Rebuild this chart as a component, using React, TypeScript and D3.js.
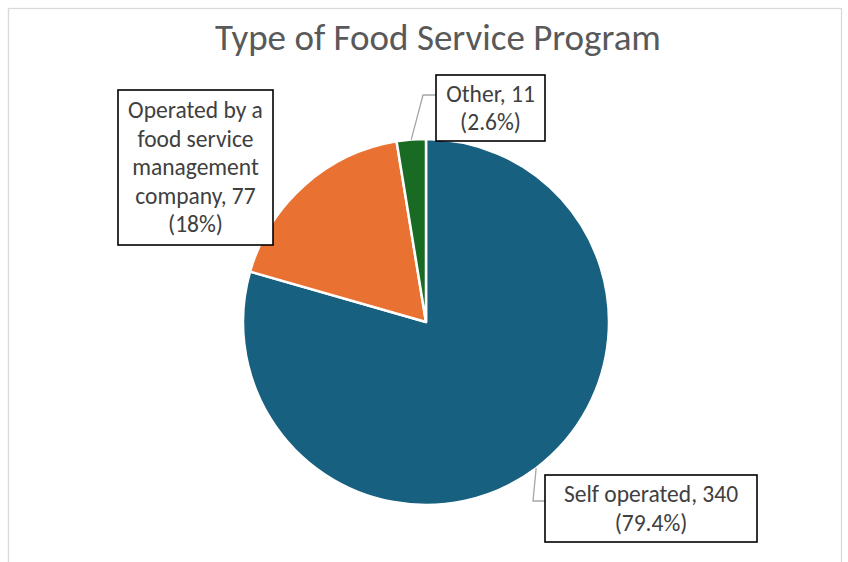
import React from "react";
import * as d3 from "d3";

const categories = ["Self operated", "Operated by a food service management company", "Other"];
const values = [340, 77, 11];
const percentLabels = ["79.4%", "18%", "2.6%"];
const colors = ["#17607f", "#e97132", "#196b24"];
const labelLines = [
  ["Self operated, 340", "(79.4%)"],
  ["Operated by a", "food service", "management", "company, 77", "(18%)"],
  ["Other, 11", "(2.6%)"],
];

const W = 848;
const H = 562;
const cx = 426;
const cy = 322;
const R = 183;
const FONT = "Carlito, Calibri, Lato, 'Liberation Sans', sans-serif";

// label boxes layout: [x, y, w, h]
const boxes: [number, number, number, number][] = [
  [545, 475, 212, 67],
  [118, 90, 155, 155],
  [436, 75, 109, 66],
];

export default function App() {
  const pie = d3.pie<number>().sort(null).value((d) => d)(values);
  const arc = d3.arc<d3.PieArcDatum<number>>().innerRadius(0).outerRadius(R);
  const lineH = 28.5;

  return (
    <svg width={W} height={H} style={{ display: "block", position: "absolute", left: 0, top: 0 }}>
      <rect x={0} y={0} width={W} height={H} fill="#fff" />
      <rect x={8.5} y={8.5} width={833} height={H} fill="#fff" stroke="#d9d9d9" strokeWidth={1.3} />
      <text x={438} y={50} textAnchor="middle" fontFamily={FONT} fontSize={37} fill="#595959">
        Type of Food Service Program
      </text>
      <g transform={`translate(${cx},${cy})`}>
        {pie.map((p, i) => (
          <path key={categories[i]} d={arc(p) || ""} fill={colors[i]} stroke="#fff" strokeWidth={2.5} strokeLinejoin="round" />
        ))}
      </g>
      {pie.map((p, i) => {
        if (i === 1) return null;
        const mid = (p.startAngle + p.endAngle) / 2;
        const px = cx + R * Math.sin(mid);
        const py = cy - R * Math.cos(mid);
        const [bx, by] = boxes[i];
        const ly = i === 0 ? by + 26 : by + 20;
        const kx = i === 0 ? bx - 12 : bx - 13;
        return (
          <polyline
            key={"l" + i}
            points={`${px},${py} ${kx},${ly} ${bx},${ly}`}
            fill="none"
            stroke="#a6a6a6"
            strokeWidth={1.3}
          />
        );
      })}
      {boxes.map(([bx, by, bw, bh], i) => {
        const lines = labelLines[i];
        const totalH = lines.length * lineH;
        const startY = by + (bh - totalH) / 2 + 22;
        return (
          <g key={"b" + i}>
            <rect x={bx} y={by} width={bw} height={bh} fill="#fff" stroke="#000" strokeWidth={1.6} />
            {lines.map((t, j) => (
              <text
                key={j}
                x={bx + bw / 2}
                y={startY + j * lineH}
                textAnchor="middle"
                fontFamily={FONT}
                fontSize={23.5}
                fill="#404040"
              >
                {t}
              </text>
            ))}
          </g>
        );
      })}
    </svg>
  );
}
